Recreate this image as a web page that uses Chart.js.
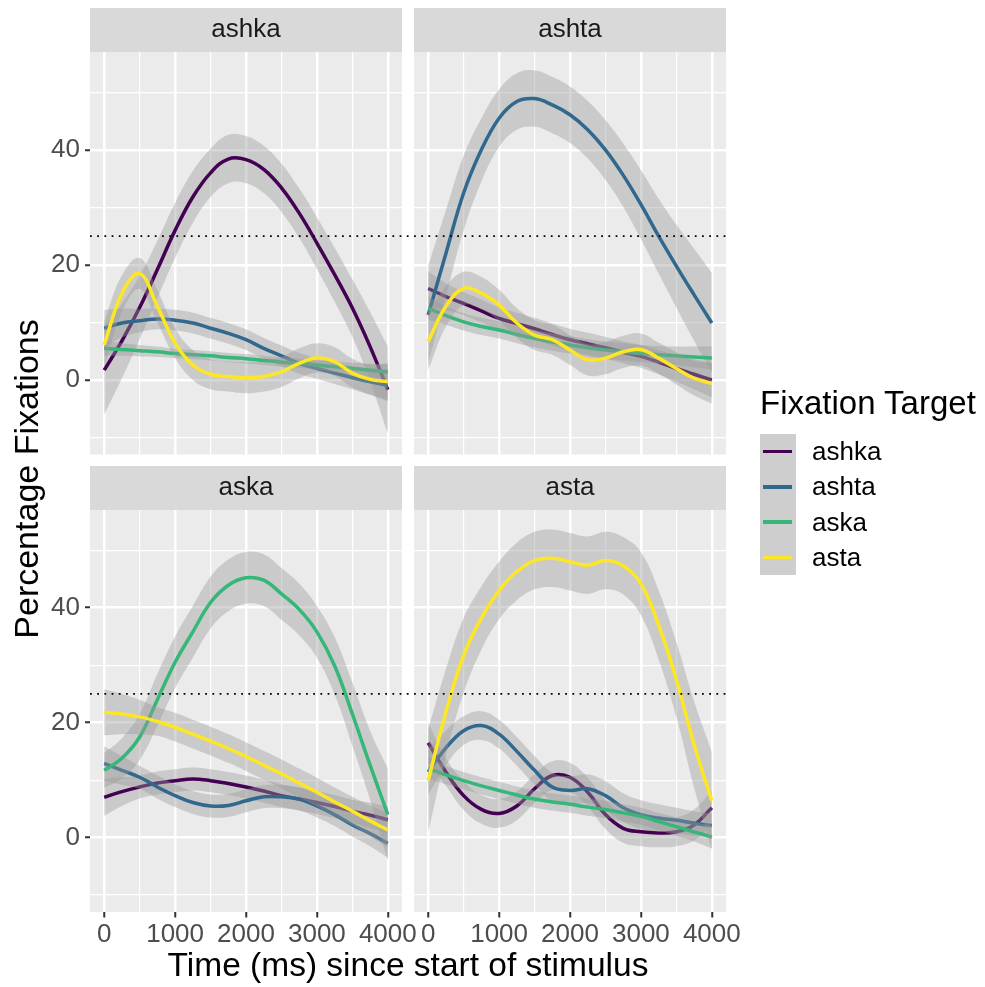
<!DOCTYPE html>
<html>
<head>
<meta charset="utf-8" />
<script src="https://cdn.jsdelivr.net/npm/chart.js@4.4.1/dist/chart.umd.min.js"></script>
<style>
  body { margin: 0; background: #fff; font-family: "Liberation Sans", Arial, sans-serif; }
  #wrap { position: relative; width: 985px; height: 987px; overflow: hidden; }
  #wrap canvas { position: absolute; left: 0; top: 0; }
  .txt { position: absolute; white-space: nowrap; color: #000; }
</style>
</head>
<body>
<div id="wrap">
  <canvas id="p0" width="985" height="987"></canvas>
  <canvas id="p1" width="985" height="987"></canvas>
  <canvas id="p2" width="985" height="987"></canvas>
  <canvas id="p3" width="985" height="987"></canvas>
  <div class="txt" id="xTitle" style="left:0;width:816px;top:948px;font-size:33.5px;line-height:33.5px;text-align:center;">Time (ms) since start of stimulus</div>
  <div class="txt" id="yTitle" style="left:-174px;width:400px;top:462px;font-size:34px;line-height:34px;text-align:center;transform:rotate(-90deg);">Percentage Fixations</div>
  <div class="txt" id="legTitle" style="left:760px;top:386px;font-size:33px;line-height:33px;">Fixation Target</div>
</div>
<script>
// time points (ms) the smooths are read at
const times = [0, 250, 500, 750, 1000, 1250, 1500, 1750, 2000, 2250, 2500, 2750, 3000, 3250, 3500, 3750, 4000];

const panels = ['ashka', 'ashta', 'aska', 'asta'];        // facet (stimulus)
const targets = ['ashka', 'ashta', 'aska', 'asta'];       // fixation target
const targetColors = ['#440154', '#31688E', '#35B779', '#FDE725'];
const chanceLevel = 25;

const xTickVals = [0, 500, 1000, 1500, 2000, 2500, 3000, 3500, 4000];
const xLabelVals = [0, 1000, 2000, 3000, 4000];
const yTickVals = [-10, 0, 10, 20, 30, 40, 50];
const yLabelVals = [0, 20, 40];

// ---- panel ashka ----
const ashka_ashka_fit = [1.7, 6.8, 12.6, 19.2, 26.0, 31.8, 36.0, 38.4, 38.3, 36.6, 33.4, 29.0, 23.8, 18.3, 12.5, 5.8, -1.7];
const ashka_ashka_lo  = [-6.0, 0.3, 7.1, 14.2, 21.2, 27.3, 31.8, 34.2, 34.2, 32.5, 29.2, 24.7, 19.3, 13.6, 7.5, -0.2, -9.3];
const ashka_ashka_hi  = [9.5, 13.3, 18.1, 24.2, 30.8, 36.3, 40.2, 42.6, 42.4, 40.7, 37.6, 33.3, 28.3, 23.0, 17.5, 11.8, 5.8];
const ashka_ashta_fit = [9.0, 9.9, 10.3, 10.6, 10.4, 9.9, 9.0, 8.1, 7.0, 5.5, 4.2, 2.9, 2.0, 1.2, 0.4, -0.3, -0.9];
const ashka_ashta_lo  = [5.8, 7.4, 8.3, 8.8, 8.6, 8.1, 7.2, 6.3, 5.2, 3.7, 2.4, 1.1, 0.2, -0.7, -1.6, -2.6, -3.7];
const ashka_ashta_hi  = [12.2, 12.4, 12.3, 12.4, 12.2, 11.7, 10.8, 9.9, 8.8, 7.3, 6.0, 4.7, 3.8, 3.1, 2.4, 2.0, 1.9];
const ashka_aska_fit  = [5.5, 5.3, 5.1, 4.9, 4.6, 4.4, 4.2, 3.9, 3.7, 3.4, 3.1, 2.9, 2.6, 2.3, 2.0, 1.7, 1.4];
const ashka_aska_lo   = [4.2, 4.2, 4.1, 4.0, 3.8, 3.6, 3.4, 3.1, 2.9, 2.6, 2.3, 2.1, 1.8, 1.4, 1.0, 0.6, 0.1];
const ashka_aska_hi   = [6.8, 6.4, 6.1, 5.8, 5.4, 5.2, 5.0, 4.7, 4.5, 4.2, 3.9, 3.7, 3.4, 3.2, 3.0, 2.8, 2.7];
const ashka_asta_fit  = [6.1, 15.0, 18.5, 12.8, 6.4, 2.6, 1.0, 0.6, 0.4, 0.6, 1.4, 2.9, 3.8, 3.2, 1.2, 0.1, -0.3];
const ashka_asta_lo   = [2.0, 11.8, 15.8, 10.0, 3.8, 0.0, -1.6, -2.0, -2.3, -2.0, -1.2, 0.3, 1.3, 0.7, -1.3, -2.5, -3.5];
const ashka_asta_hi   = [10.2, 18.2, 21.2, 15.6, 9.0, 5.2, 3.6, 3.2, 3.1, 3.2, 4.0, 5.5, 6.4, 5.7, 3.7, 2.7, 2.9];

// ---- panel ashta ----
const ashta_ashka_fit = [15.9, 14.5, 13.3, 12.0, 10.7, 9.8, 8.9, 7.9, 7.0, 6.3, 5.6, 4.8, 4.1, 3.1, 2.0, 1.0, 0.0];
const ashta_ashka_lo  = [12.9, 12.2, 11.3, 10.0, 8.8, 7.9, 7.0, 6.0, 5.1, 4.4, 3.7, 2.9, 2.1, 1.0, -0.3, -1.6, -3.0];
const ashta_ashka_hi  = [18.9, 16.8, 15.3, 14.0, 12.6, 11.7, 10.8, 9.8, 8.9, 8.2, 7.5, 6.7, 6.1, 5.2, 4.3, 3.6, 3.0];
const ashta_ashta_fit = [11.3, 22.0, 32.5, 40.0, 45.5, 48.4, 48.9, 47.8, 46.1, 43.5, 40.0, 35.6, 30.5, 25.0, 19.8, 14.8, 9.9];
const ashta_ashta_lo  = [2.8, 14.5, 26.0, 34.5, 40.5, 43.5, 44.0, 42.9, 41.2, 38.5, 34.8, 30.1, 24.5, 18.5, 12.6, 6.8, 1.2];
const ashta_ashta_hi  = [19.8, 29.5, 39.0, 45.5, 50.5, 53.3, 53.8, 52.7, 51.0, 48.5, 45.2, 41.1, 36.5, 31.5, 27.0, 22.8, 18.6];
const ashta_aska_fit  = [12.5, 11.2, 10.1, 9.3, 8.7, 7.9, 7.2, 6.6, 6.1, 5.6, 5.2, 4.9, 4.6, 4.4, 4.2, 4.0, 3.8];
const ashta_aska_lo   = [10.5, 9.6, 8.6, 7.8, 7.2, 6.4, 5.7, 5.1, 4.6, 4.1, 3.7, 3.4, 3.1, 2.9, 2.6, 2.2, 1.8];
const ashta_aska_hi   = [14.5, 12.8, 11.6, 10.8, 10.2, 9.4, 8.7, 8.1, 7.6, 7.1, 6.7, 6.4, 6.1, 5.9, 5.8, 5.8, 5.8];
const ashta_asta_fit  = [6.7, 12.8, 15.9, 15.1, 13.0, 9.9, 7.8, 7.0, 5.2, 3.5, 3.8, 4.9, 5.3, 3.8, 2.0, 0.3, -0.6];
const ashta_asta_lo   = [1.7, 9.3, 13.0, 12.3, 10.3, 7.3, 5.2, 4.4, 2.6, 0.8, 1.0, 2.1, 2.5, 1.1, -0.8, -2.7, -4.1];
const ashta_asta_hi   = [11.7, 16.3, 18.8, 17.9, 15.7, 12.5, 10.4, 9.6, 7.8, 6.2, 6.6, 7.7, 8.1, 6.5, 4.8, 3.3, 2.9];

// ---- panel aska ----
const aska_ashka_fit = [7.0, 8.0, 8.8, 9.5, 9.9, 10.2, 9.9, 9.4, 8.8, 8.1, 7.3, 6.7, 6.1, 5.4, 4.6, 3.9, 3.1];
const aska_ashka_lo  = [3.8, 5.5, 6.8, 7.5, 7.9, 8.2, 7.9, 7.4, 6.8, 6.1, 5.3, 4.7, 4.1, 3.4, 2.6, 1.7, 0.8];
const aska_ashka_hi  = [10.2, 10.5, 10.8, 11.5, 11.9, 12.2, 11.9, 11.4, 10.8, 10.1, 9.3, 8.7, 8.1, 7.4, 6.6, 6.1, 5.4];
const aska_ashta_fit = [12.9, 11.7, 10.5, 8.8, 7.3, 6.1, 5.5, 5.6, 6.4, 7.1, 7.1, 6.7, 5.5, 4.0, 2.2, 0.7, -1.0];
const aska_ashta_lo  = [9.9, 9.2, 8.5, 6.8, 5.3, 4.1, 3.5, 3.6, 4.4, 5.1, 5.1, 4.7, 3.5, 2.0, 0.2, -1.5, -3.5];
const aska_ashta_hi  = [15.9, 14.2, 12.5, 10.8, 9.3, 8.1, 7.5, 7.6, 8.4, 9.1, 9.1, 8.7, 7.5, 6.0, 4.2, 2.9, 1.5];
const aska_aska_fit  = [11.7, 13.8, 17.5, 24.0, 30.5, 35.8, 40.9, 43.9, 45.2, 44.8, 42.4, 39.7, 35.8, 29.9, 21.5, 12.6, 4.0];
const aska_aska_lo   = [8.7, 10.3, 13.5, 19.5, 26.0, 31.3, 36.4, 39.4, 40.7, 40.3, 37.9, 35.2, 31.3, 24.9, 16.0, 6.6, -4.0];
const aska_aska_hi   = [14.7, 17.3, 21.5, 28.5, 35.0, 40.3, 45.4, 48.4, 49.7, 49.3, 46.9, 44.2, 40.3, 34.9, 27.0, 18.6, 12.0];
const aska_asta_fit  = [21.8, 21.5, 21.0, 20.2, 19.2, 18.0, 16.8, 15.5, 14.1, 12.6, 11.1, 9.5, 7.9, 6.2, 4.6, 2.9, 1.3];
const aska_asta_lo   = [17.8, 18.0, 18.0, 17.7, 16.7, 15.5, 14.3, 13.0, 11.6, 10.1, 8.6, 7.0, 5.4, 3.7, 2.1, 0.2, -1.7];
const aska_asta_hi   = [25.8, 25.0, 24.0, 22.7, 21.7, 20.5, 19.3, 18.0, 16.6, 15.1, 13.6, 12.0, 10.4, 8.7, 7.1, 5.6, 4.3];

// ---- panel asta ----
const asta_ashka_fit = [16.5, 11.4, 7.3, 4.9, 4.2, 5.5, 8.5, 10.8, 10.5, 7.9, 4.0, 1.6, 1.0, 0.8, 1.0, 2.2, 5.2];
const asta_ashka_lo  = [13.0, 9.0, 4.8, 2.4, 1.7, 3.0, 6.0, 8.3, 8.0, 5.4, 1.5, -0.9, -1.5, -1.7, -1.5, -0.5, 2.2];
const asta_ashka_hi  = [20.0, 13.8, 9.8, 7.4, 6.7, 8.0, 11.0, 13.3, 13.0, 10.4, 6.5, 4.1, 3.5, 3.3, 3.5, 4.9, 8.2];
const asta_ashta_fit = [11.4, 15.6, 18.6, 19.5, 18.0, 15.0, 11.7, 8.8, 8.2, 8.5, 7.3, 5.2, 4.0, 3.4, 3.0, 2.5, 2.1];
const asta_ashta_lo  = [7.4, 12.6, 16.1, 17.0, 15.5, 12.5, 9.2, 6.3, 5.7, 6.0, 4.8, 2.7, 1.5, 1.0, 0.8, 0.4, 0.0];
const asta_ashta_hi  = [15.4, 18.6, 21.1, 22.0, 20.5, 17.5, 14.2, 11.3, 10.7, 11.0, 9.8, 7.7, 6.5, 5.8, 5.2, 4.6, 4.2];
const asta_aska_fit  = [12.0, 10.9, 9.9, 9.0, 8.2, 7.4, 6.7, 6.2, 5.8, 5.3, 4.9, 4.3, 3.7, 2.8, 1.9, 1.0, 0.1];
const asta_aska_lo   = [10.0, 9.3, 8.4, 7.5, 6.7, 5.9, 5.2, 4.7, 4.3, 3.8, 3.4, 2.8, 2.2, 1.3, 0.3, -0.7, -1.9];
const asta_aska_hi   = [14.0, 12.5, 11.4, 10.5, 9.7, 8.9, 8.2, 7.7, 7.3, 6.8, 6.4, 5.8, 5.2, 4.3, 3.5, 2.7, 2.1];
const asta_asta_fit  = [9.9, 21.8, 31.7, 38.2, 43.0, 46.3, 48.2, 48.6, 48.0, 47.4, 48.2, 47.3, 44.2, 37.0, 27.5, 16.2, 6.4];
const asta_asta_lo   = [0.9, 14.3, 25.2, 32.7, 38.0, 41.3, 43.2, 43.6, 43.0, 42.4, 43.2, 42.3, 38.7, 31.0, 21.0, 8.7, -2.1];
const asta_asta_hi   = [18.9, 29.3, 38.2, 43.7, 48.0, 51.3, 53.2, 53.6, 53.0, 52.4, 53.2, 52.3, 49.7, 43.0, 34.0, 23.7, 14.9];

// lookup table: panel -> target -> [fit, lo, hi]
const curves = {
  ashka: { ashka: [ashka_ashka_fit, ashka_ashka_lo, ashka_ashka_hi], ashta: [ashka_ashta_fit, ashka_ashta_lo, ashka_ashta_hi],
           aska: [ashka_aska_fit, ashka_aska_lo, ashka_aska_hi], asta: [ashka_asta_fit, ashka_asta_lo, ashka_asta_hi] },
  ashta: { ashka: [ashta_ashka_fit, ashta_ashka_lo, ashta_ashka_hi], ashta: [ashta_ashta_fit, ashta_ashta_lo, ashta_ashta_hi],
           aska: [ashta_aska_fit, ashta_aska_lo, ashta_aska_hi], asta: [ashta_asta_fit, ashta_asta_lo, ashta_asta_hi] },
  aska:  { ashka: [aska_ashka_fit, aska_ashka_lo, aska_ashka_hi], ashta: [aska_ashta_fit, aska_ashta_lo, aska_ashta_hi],
           aska: [aska_aska_fit, aska_aska_lo, aska_aska_hi], asta: [aska_asta_fit, aska_asta_lo, aska_asta_hi] },
  asta:  { ashka: [asta_ashka_fit, asta_ashka_lo, asta_ashka_hi], ashta: [asta_ashta_fit, asta_ashta_lo, asta_ashta_hi],
           aska: [asta_aska_fit, asta_aska_lo, asta_aska_hi], asta: [asta_asta_fit, asta_asta_lo, asta_asta_hi] }
};

// ---- layout / style ----
const FONT = '"Liberation Sans", Arial, sans-serif';
const W = 985, H = 987;
const xMin = -200, xMax = 4200, yMin = -12.95, yMax = 57;
const yAxisW = 90, xAxisH = 40, stripH = 44;
const boxes = [
  { left: 90,  top: 52,  right: 402, bottom: 454.5, showX: false, showY: true },
  { left: 414, top: 52,  right: 726, bottom: 454.5, showX: false, showY: false },
  { left: 90,  top: 510, right: 402, bottom: 912,   showX: true,  showY: true },
  { left: 414, top: 510, right: 726, bottom: 912,   showX: true,  showY: false }
];
const bandFill = 'rgba(153,153,153,0.4)';
const smooth = 0.4;

function pts(arr) { return times.map((t, i) => ({ x: t, y: arr[i] })); }

// grey panel background + strip with facet label
const panelDeco = {
  id: 'panelDeco',
  beforeDraw(chart, args, opts) {
    const { ctx, chartArea: a } = chart;
    ctx.save();
    ctx.fillStyle = '#EBEBEB';
    ctx.fillRect(a.left, a.top, a.right - a.left, a.bottom - a.top);
    ctx.fillStyle = '#D9D9D9';
    ctx.fillRect(a.left, a.top - stripH, a.right - a.left, stripH);
    ctx.fillStyle = '#1A1A1A';
    ctx.font = '26px ' + FONT;
    ctx.textAlign = 'center';
    ctx.textBaseline = 'middle';
    ctx.fillText(opts.title, (a.left + a.right) / 2, a.top - stripH / 2);
    ctx.restore();
  }
};

function makePanel(idx) {
  const name = panels[idx];
  const b = boxes[idx];
  const datasets = [];
  let seq = 0;
  targets.forEach((tg, g) => {
    const [fit, lo, hi] = curves[name][tg];
    datasets.push({ data: pts(lo), borderWidth: 0, pointRadius: 0, fill: false,
                    tension: smooth, order: 100 - seq++ });
    datasets.push({ data: pts(hi), borderWidth: 0, pointRadius: 0, fill: '-1', backgroundColor: bandFill,
                    tension: smooth, order: 100 - seq++ });
    datasets.push({ data: pts(fit), borderColor: targetColors[g], borderWidth: 3.5, pointRadius: 0, fill: false,
                    tension: smooth, order: 100 - seq++ });
  });
  // dotted chance line; in the left column it runs on across the gap
  const lineEnd = b.showY ? 4376 : xMax;
  datasets.push({ data: [{ x: xMin, y: chanceLevel }, { x: lineEnd, y: chanceLevel }],
                  borderColor: '#000', borderWidth: 1.8, borderDash: [1.8, 5.4], pointRadius: 0, fill: false,
                  order: 0, clip: { left: 0, top: 0, bottom: 0, right: b.showY ? 13 : 0 } });

  new Chart(document.getElementById('p' + idx), {
    type: 'line',
    data: { datasets },
    plugins: [panelDeco],
    options: {
      responsive: false,
      animation: false,
      events: [],
      layout: { padding: {
        left: b.left - (b.showY ? yAxisW : 0),
        top: b.top,
        right: W - b.right,
        bottom: H - b.bottom - (b.showX ? xAxisH : 0)
      } },
      plugins: { legend: { display: false }, tooltip: { enabled: false }, panelDeco: { title: name } },
      scales: {
        x: {
          type: 'linear', min: xMin, max: xMax,
          afterBuildTicks: s => { s.ticks = xTickVals.map(v => ({ value: v })); },
          afterFit: s => { s.height = b.showX ? xAxisH : 0; },
          border: { display: false },
          grid: {
            color: '#FFFFFF',
            lineWidth: c => xLabelVals.includes(c.tick.value) ? 2.5 : 1.2,
            drawTicks: b.showX, tickLength: 5.5, tickWidth: 2,
            tickColor: c => xLabelVals.includes(c.tick.value) ? '#333333' : 'rgba(0,0,0,0)'
          },
          ticks: {
            display: b.showX, autoSkip: false, maxRotation: 0, padding: 2, color: '#4D4D4D',
            font: { size: 26, family: FONT },
            callback: v => xLabelVals.includes(v) ? String(v) : ''
          }
        },
        y: {
          type: 'linear', min: yMin, max: yMax,
          afterBuildTicks: s => { s.ticks = yTickVals.map(v => ({ value: v })); },
          afterFit: s => { s.width = b.showY ? yAxisW : 0; },
          border: { display: false },
          grid: {
            color: '#FFFFFF',
            lineWidth: c => yLabelVals.includes(c.tick.value) ? 2.5 : 1.2,
            drawTicks: b.showY, tickLength: 5, tickWidth: 2,
            tickColor: c => yLabelVals.includes(c.tick.value) ? '#333333' : 'rgba(0,0,0,0)'
          },
          ticks: {
            display: b.showY, padding: 5, color: '#4D4D4D',
            font: { size: 26, family: FONT },
            callback: v => yLabelVals.includes(v) ? String(v) : ''
          }
        }
      }
    }
  });
}

panels.forEach((p, i) => makePanel(i));

// legend (keys on a grey band, like the smooth's ribbon)
const wrap = document.getElementById('wrap');
const legTop = 434, rowH = 35.25;
const keyBox = document.createElement('div');
keyBox.style.cssText = `position:absolute;left:760px;top:${legTop}px;width:36px;height:${rowH * targets.length}px;background:#CECECE;`;
wrap.appendChild(keyBox);
targets.forEach((tg, i) => {
  const cy = legTop + rowH * (i + 0.5);
  const key = document.createElement('div');
  key.style.cssText = `position:absolute;left:763px;top:${cy - 1.75}px;width:29px;height:3.5px;background:${targetColors[i]};`;
  wrap.appendChild(key);
  const lab = document.createElement('div');
  lab.className = 'txt';
  lab.style.cssText = `left:812px;top:${legTop + rowH * i}px;height:${rowH}px;line-height:${rowH}px;font-size:26px;`;
  lab.textContent = tg;
  wrap.appendChild(lab);
});
</script>
</body>
</html>
